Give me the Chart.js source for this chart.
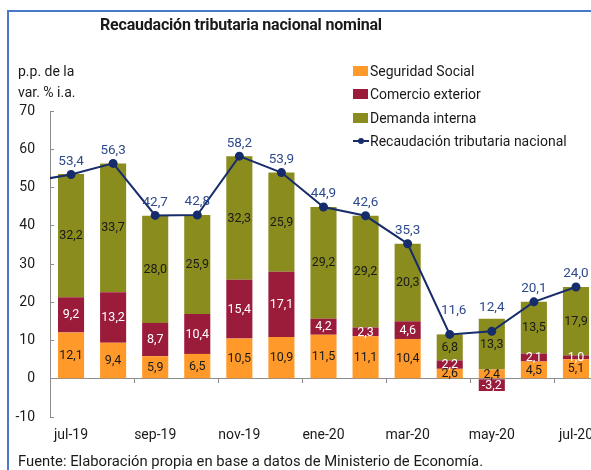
<!DOCTYPE html>
<html>
<head>
<meta charset="utf-8">
<script src="https://cdn.jsdelivr.net/npm/chart.js@4.4.1/dist/chart.umd.min.js"></script>
<style>
  html, body { margin: 0; padding: 0; background: #fff; overflow: hidden; width: 591px; height: 470px; }
  body { position: relative; font-family: Roboto, "Noto Sans", sans-serif; color: #1a1a1a; }
  #wrap { position: absolute; left: 0; top: 0; width: 620px; height: 470px; }
  .frameL { position: absolute; left: 7px; top: 10px; width: 2px; height: 460px; background: #4a78c8; }
  .frameT { position: absolute; left: 7px; top: 10px; width: 584px; height: 2px; background: #4a78c8; }
  .title { position: absolute; left: 100px; top: 15px; font-size: 16px; font-weight: bold; white-space: nowrap; letter-spacing: -0.2px; }
  .ytitle { position: absolute; left: 18px; top: 61px; font-size: 14px; line-height: 21px; }
  .legend { position: absolute; left: 353px; top: 61px; font-size: 14px; }
  .legend div { height: 23.3px; line-height: 20px; white-space: nowrap; position: relative; padding-left: 17px; }
  .sw { position: absolute; left: 0; top: 5px; width: 15px; height: 10px; }
  .ln { position: absolute; left: 0; top: 9px; width: 16px; height: 2px; background: #172c6a; }
  .dot { position: absolute; left: 5px; top: 7px; width: 6px; height: 6px; border-radius: 50%; background: #172c6a; }
  .source { position: absolute; left: 18px; top: 452px; font-size: 14.8px; white-space: nowrap; }
</style>
</head>
<body>
<div id="wrap"><canvas id="c" width="620" height="470"></canvas></div>
<div class="frameL"></div>
<div class="frameT"></div>
<div class="title">Recaudación tributaria nacional nominal</div>
<div class="ytitle">p.p. de la<br>var. % i.a.</div>
<div class="legend">
  <div><span class="sw" style="background:#ff9a2a"></span>Seguridad Social</div>
  <div><span class="sw" style="background:#9b1b3b"></span>Comercio exterior</div>
  <div><span class="sw" style="background:#8a8c1e"></span>Demanda interna</div>
  <div><span class="ln"></span><span class="dot"></span>Recaudación tributaria nacional</div>
</div>
<div class="source">Fuente: Elaboración propia en base a datos de Ministerio de Economía.</div>
<script>
// Categories (jun-19 only feeds the line segment entering from the left edge)
const categories = ['jun-19','jul-19','ago-19','sep-19','oct-19','nov-19','dic-19','ene-20','feb-20','mar-20','abr-20','may-20','jun-20','jul-20'];
const seguridadSocial  = [null, 12.1, 9.4, 5.9, 6.5, 10.5, 10.9, 11.5, 11.1, 10.4, 2.6, 2.4, 4.5, 5.1];
const comercioExterior = [null, 9.2, 13.2, 8.7, 10.4, 15.4, 17.1, 4.2, 2.3, 4.6, 2.2, -3.2, 2.1, 1.0];
const demandaInterna   = [null, 32.2, 33.7, 28.0, 25.9, 32.3, 25.9, 29.2, 29.2, 20.3, 6.8, 13.3, 13.5, 17.9];
const recaudacion      = [51.5, 53.4, 56.3, 42.7, 42.8, 58.2, 53.9, 44.9, 42.6, 35.3, 11.6, 12.4, 20.1, 24.0];
const yTicks = [-10, 0, 10, 20, 30, 40, 50, 60, 70];

const fmt = v => v.toFixed(1).replace('.', ',');
const FONT = 'Roboto, "Noto Sans", sans-serif';

const labelPlugin = {
  id: 'valueLabels',
  afterDatasetsDraw(chart) {
    const ctx = chart.ctx;
    ctx.save();
    ctx.textAlign = 'center';
    ctx.textBaseline = 'middle';
    chart.data.datasets.forEach((ds, di) => {
      const meta = chart.getDatasetMeta(di);
      meta.data.forEach((el, i) => {
        if (i === 0) return;
        const v = ds.data[i];
        if (v === null || v === undefined) return;
        if (ds.type === 'line') {
          const off = (i === 10 || i === 11) ? 24 : 13;
          ctx.font = '13.5px ' + FONT;
          ctx.fillStyle = '#2f4a8c';
          ctx.fillText(fmt(v), el.x + (i === 10 ? 4 : 0), el.y - off);
        } else {
          ctx.font = '12.5px ' + FONT;
          ctx.fillStyle = ds.labelColor;
          ctx.fillText(fmt(v), el.x, (el.y + el.base) / 2 + 0.5);
        }
      });
    });
    ctx.restore();
  }
};

new Chart(document.getElementById('c'), {
  data: {
    labels: categories,
    datasets: [
      { type: 'line', label: 'Recaudación tributaria nacional', data: recaudacion,
        borderColor: '#172c6a', backgroundColor: '#172c6a', borderWidth: 2,
        pointRadius: 3.5, pointHoverRadius: 3.5, tension: 0, stack: 'line', order: 0 },
      { type: 'bar', label: 'Seguridad Social', data: seguridadSocial, backgroundColor: '#ff9a2a',
        labelColor: '#1a1a1a', stack: 'bars', order: 1, barPercentage: 0.62, categoryPercentage: 1 },
      { type: 'bar', label: 'Comercio exterior', data: comercioExterior, backgroundColor: '#9b1b3b',
        labelColor: '#ffffff', stack: 'bars', order: 1, barPercentage: 0.62, categoryPercentage: 1 },
      { type: 'bar', label: 'Demanda interna', data: demandaInterna, backgroundColor: '#8a8c1e',
        labelColor: '#1a1a1a', stack: 'bars', order: 1, barPercentage: 0.62, categoryPercentage: 1 }
    ]
  },
  options: {
    responsive: false,
    animation: false,
    devicePixelRatio: 1,
    layout: { padding: { left: 0, top: 111, right: 23, bottom: 23 } },
    plugins: { legend: { display: false }, title: { display: false }, tooltip: { enabled: false } },
    scales: {
      x: {
        type: 'category', position: 'bottom', stacked: true, offset: true, min: 'jul-19',
        border: { display: false },
        grid: { display: false, drawTicks: false },
        ticks: {
          autoSkip: false, maxRotation: 0, minRotation: 0, padding: 10,
          color: '#1a1a1a', font: { family: FONT, size: 14 },
          callback: function (value) { return value % 2 === 1 ? this.getLabelForValue(value) : ''; }
        },
        afterFit: s => { s.height = 30; }
      },
      x0: {
        type: 'category', position: { y: 0 }, offset: true, min: 'jul-19',
        border: { display: true, color: '#8c8c8c', width: 1 },
        grid: {
          offset: true, drawOnChartArea: false, drawTicks: true, tickLength: 4,
          color: c => (c.tick && c.tick.value % 2 === 1 && c.tick.value > 1) ? '#8c8c8c' : 'rgba(0,0,0,0)'
        },
        ticks: { display: false }
      },
      y: {
        type: 'linear', position: 'left', stacked: true, min: -10, max: 70,
        border: { display: true, color: '#8c8c8c', width: 1 },
        grid: { drawOnChartArea: false, drawTicks: true, tickLength: -4, color: '#8c8c8c' },
        afterBuildTicks: s => { s.ticks = yTicks.map(v => ({ value: v })); },
        ticks: { padding: 19, color: '#1a1a1a', font: { family: FONT, size: 14 } },
        afterFit: s => { s.width = 50; }
      }
    }
  },
  plugins: [labelPlugin]
});
</script>
</body>
</html>
